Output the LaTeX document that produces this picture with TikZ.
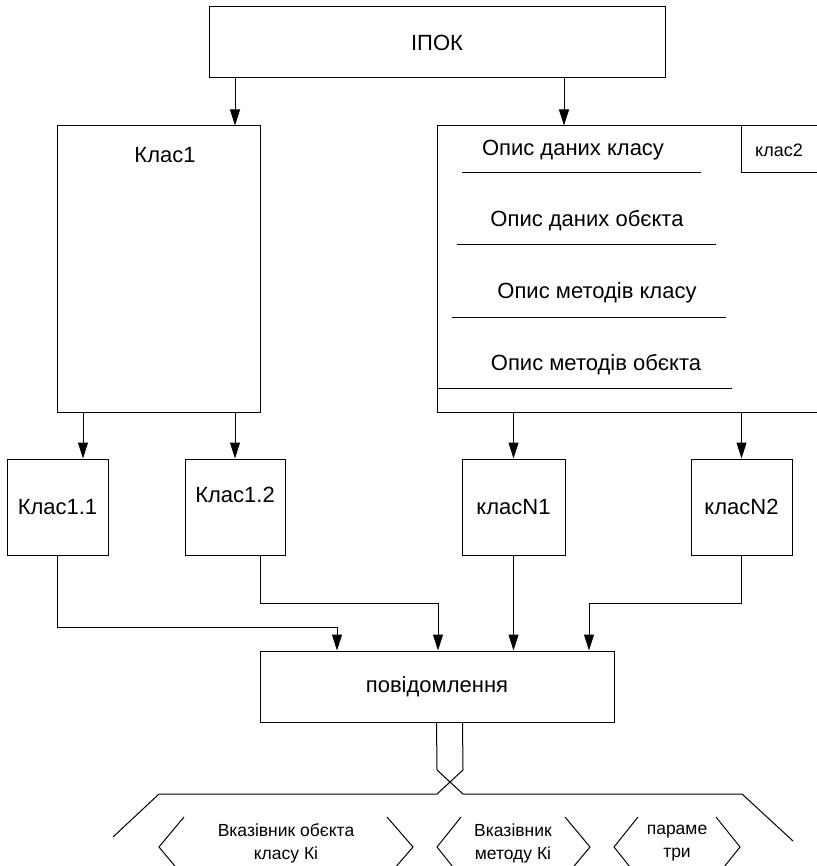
\documentclass[tikz,border=0pt]{standalone}
\usepackage{fontspec}
\setmainfont{Liberation Sans}
\usetikzlibrary{arrows.meta}
\tikzset{
	box/.style={draw,line width=1pt,inner sep=0pt,font=\fontsize{22}{26}\selectfont},
	txt/.style={font=\fontsize{22}{26}\selectfont},
	ptr/.style={font=\fontsize{17.5}{23}\selectfont,align=center},
	arr/.style={-{Triangle[length=16pt,width=10pt]},line width=1pt},
	ln/.style={line width=1pt}
}
\begin{document}
\begin{tikzpicture}[x=1pt,y=-1pt]
	\useasboundingbox(0,0)rectangle(816,866);
	% columns and bends
	\coordinate(xa)at(83,0);
	\coordinate(xb)at(235,0);
	\coordinate(xc)at(564,0);
	\coordinate(j1)at(337,627);
	\coordinate(j2)at(438,603);
	\coordinate(j3)at(589,603);
	% boxes
	\node[box,minimum width=456pt,minimum height=71pt](ipok)at(437,42.5){ІПОК};
	\node[box,minimum width=203pt,minimum height=286pt](klas1)at(158.5,269){};
	\node[txt](klas1t)at(165,155){Клас1};
	\node[box,minimum width=385pt,minimum height=286pt](klas2)at(629.5,269){};
	\draw[ln](741,126)|-(822,173);
	\node[font=\fontsize{18}{22}\selectfont](klas2t)at(779,150){клас2};
	\draw[ln](462,173)--(701,173)
		(457,245)--(716,245)
		(452,317)--(726,317)
		(437,388)--(732,388);
	\node[txt](d1)at(573,150){Опис даних класу};
	\node[txt](d2)at(587,221){Опис даних обєкта};
	\node[txt](d3)at(597,293){Опис методів класу};
	\node[txt](d4)at(596,365){Опис методів обєкта};
	\node[box,minimum width=101pt,minimum height=96pt](k11)at(57.5,507){Клас1.1};
	\node[box,minimum width=100pt,minimum height=96pt,text depth=24pt](k12)at(235,507){Клас1.2};
	\node[box,minimum width=103pt,minimum height=96pt](kN1)at(513.5,507){класN1};
	\node[box,minimum width=101pt,minimum height=96pt](kN2)at(741.5,507){класN2};
	\node[box,minimum width=354pt,minimum height=71pt](povid)at(437,686.5){повідомлення};
	% arrows
	\draw[arr](ipok.south -| xb)--(klas1.north -| xb);
	\draw[arr](ipok.south -| xc)--(klas2.north -| xc);
	\draw[arr](klas1.south -| xa)--(k11.north -| xa);
	\draw[arr](klas1.south -| xb)--(k12.north);
	\draw[arr](klas2.south -| kN1)--(kN1.north);
	\draw[arr](klas2.south -| kN2)--(kN2.north);
	\draw[arr](k11.south)|-(j1)--(povid.north -| j1);
	\draw[arr]([xshift=25pt]k12.south)|-(j2)--(povid.north -| j2);
	\draw[arr](kN1.south)--(povid.north -| kN1);
	\draw[arr](kN2.south)|-(j3)--(povid.north -| j3);
	% message layout
	\draw[ln]([xshift=-0.5pt]povid.south)--(437,770)--(463,794)--(742,794)--(793,841);
	\draw[ln]([xshift=25.5pt]povid.south)--(463,770)--(437,794)--(159,794)--(113,837);
	\node[ptr](p1)at(286,843){Вказівник обєкта\\класу Кі};
	\node[ptr](p2)at(513,843){Вказівник\\методу Кі};
	\node[ptr](p3)at(677,843){параме\\три};
	\draw[ln](184,817)--(159,847)--(184,877)
		(387,817)--(413,847)--(387,877);
	\draw[ln](461,817)--(437,847)--(461,877)
		(565,817)--(590,847)--(565,877);
	\draw[ln](638,817)--(614,847)--(638,877)
		(716,817)--(740,847)--(716,877);
\end{tikzpicture}
\end{document}
